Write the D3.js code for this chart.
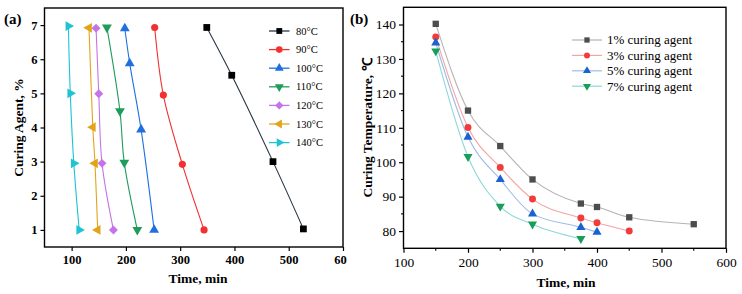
<!DOCTYPE html>
<html><head><meta charset="utf-8">
<script src="https://cdn.jsdelivr.net/npm/d3@7"></script>
<style>body{margin:0;background:#fff}svg{display:block}</style>
</head><body>
<svg id="chart" width="742" height="294"></svg>
<script>
// ---------- Panel (a) data ----------
const seriesALabels = ["80°C","90°C","100°C","110°C","120°C","130°C","140°C"];
const timeA80  = [349, 395, 471, 527];   const agentA80  = [6.93, 5.53, 3.0, 1.03];
const timeA90  = [253, 269, 304, 344];   const agentA90  = [6.93, 4.95, 2.92, 1.0];
const timeA100 = [198, 207, 228, 252];   const agentA100 = [6.9, 5.88, 3.94, 1.0];
const timeA110 = [165, 189, 197, 221];   const agentA110 = [6.93, 4.48, 2.97, 1.0];
const timeA120 = [145, 150, 156, 177];   const agentA120 = [6.91, 4.99, 2.95, 1.0];
const timeA130 = [132, 139, 143, 148];   const agentA130 = [6.92, 4.01, 2.95, 1.0];
const timeA140 = [94, 97.5, 104, 114];   const agentA140 = [6.97, 5.0, 2.95, 1.0];
const xTicksA = [100, 200, 300, 400, 500, 600];
const yTicksA = [1, 2, 3, 4, 5, 6, 7];

// ---------- Panel (b) data ----------
const seriesBLabels = ["1% curing agent","3% curing agent","5% curing agent","7% curing agent"];
const timeB1 = [150, 200, 250, 300, 375, 400, 450, 550];
const tempB1 = [140.2, 115, 104.7, 95, 88, 87, 84, 82];
const timeB3 = [150, 200, 250, 300, 375, 400, 450];
const tempB3 = [136.4, 110.1, 98.5, 89.3, 83.8, 82.4, 80];
const timeB5 = [150, 200, 250, 300, 375, 400];
const tempB5 = [134.7, 107.3, 95, 85, 81.1, 79.7];
const timeB7 = [150, 200, 250, 300, 375];
const tempB7 = [132.3, 101.6, 87.2, 82, 77.8];
const xTicksB = [100, 200, 300, 400, 500, 600];
const yTicksB = [80, 90, 100, 110, 120, 130, 140];

const svg = d3.select("#chart");
const serif = "'Liberation Serif','Times New Roman',serif";

svg.append("defs").append("clipPath").attr("id","clipA")
  .append("rect").attr("x",0).attr("y",0).attr("width",347).attr("height",294);

function zip(xs, ys){ return xs.map((x,i)=>({x, y: ys[i]})); }

function symbolPath(kind, size){
  const types = {square:d3.symbolSquare, circle:d3.symbolCircle, up:d3.symbolTriangle,
    down:d3.symbolTriangle, diamond:d3.symbolSquare, left:d3.symbolTriangle, right:d3.symbolTriangle};
  return d3.symbol().type(types[kind]).size(size)();
}
const rot = {square:0, circle:0, up:0, down:180, diamond:45, left:-90, right:90};

function drawMarker(g, kind, x, y, size, color){
  g.append("path").attr("d", symbolPath(kind, size))
    .attr("transform", `translate(${x},${y}) rotate(${rot[kind]})`)
    .attr("fill", color);
}

// ================= Panel (a) =================
{
  const x = d3.scaleLinear().domain([50, 600]).range([44.5, 343]);
  const y = d3.scaleLinear().domain([0.5, 7.5]).range([247, 8]);
  const g = svg.append("g").attr("clip-path","url(#clipA)");
  const series = [
    {t: timeA80,  a: agentA80,  c: "#000000", l: "#2a3645", m: "square"},
    {t: timeA90,  a: agentA90,  c: "#f23030", l: "#f23030", m: "circle"},
    {t: timeA100, a: agentA100, c: "#1f6fe0", l: "#1f6fe0", m: "up"},
    {t: timeA110, a: agentA110, c: "#1e9c5c", l: "#1e9c5c", m: "down"},
    {t: timeA120, a: agentA120, c: "#c474e8", l: "#c474e8", m: "diamond"},
    {t: timeA130, a: agentA130, c: "#e3a41c", l: "#e3a41c", m: "left"},
    {t: timeA140, a: agentA140, c: "#1ec4d2", l: "#1ec4d2", m: "right"}
  ];
  const line = d3.line().x(d=>x(d.x)).y(d=>y(d.y)).curve(d3.curveCatmullRom.alpha(0.5));
  series.forEach(s=>{
    const pts = zip(s.t, s.a);
    g.append("path").attr("d", line(pts)).attr("fill","none").attr("stroke", s.l).attr("stroke-width",1.1);
    pts.forEach(p=>drawMarker(g, s.m, x(p.x), y(p.y), s.m==="square"?46:(s.m==="circle"?40:(s.m==="diamond"?40:42)), s.c));
  });
  g.append("rect").attr("x",44.5).attr("y",8).attr("width",343-44.5).attr("height",247-8)
    .attr("fill","none").attr("stroke","#000").attr("stroke-width",1.4);
  const xa = g.append("g").attr("transform","translate(0,247)")
    .call(d3.axisBottom(x).tickValues(xTicksA).tickSize(4).tickPadding(4).tickFormat(d3.format("d")));
  const ya = g.append("g").attr("transform","translate(44.5,0)")
    .call(d3.axisLeft(y).tickValues(yTicksA).tickSize(4).tickPadding(3).tickFormat(d3.format("d")));
  [xa, ya].forEach(a=>{
    a.select(".domain").remove();
    a.selectAll("line").attr("stroke","#000").attr("stroke-width",1.2);
    a.selectAll("text").attr("font-family",serif).attr("font-weight","bold").attr("font-size","12.5px").attr("fill","#000");
  });
  g.append("text").attr("x",198).attr("y",283).attr("text-anchor","middle")
    .attr("font-family",serif).attr("font-weight","bold").attr("font-size","13.5px").text("Time, min");
  g.append("text").attr("transform","translate(23,127.5) rotate(-90)").attr("text-anchor","middle")
    .attr("font-family",serif).attr("font-weight","bold").attr("font-size","13.5px").text("Curing Agent, %");
  g.append("text").attr("x",4).attr("y",24).attr("font-family",serif).attr("font-weight","bold")
    .attr("font-size","15px").text("(a)");
  seriesALabels.forEach((lab,i)=>{
    const ly = 31 + i*18.6;
    const s = series[i];
    g.append("line").attr("x1",269).attr("x2",289.5).attr("y1",ly).attr("y2",ly).attr("stroke",s.l).attr("stroke-width",1.3);
    drawMarker(g, s.m, 279.3, ly, 34, s.c);
    g.append("text").attr("x",296).attr("y",ly+3.5).attr("font-family",serif).attr("font-size","10.5px").text(lab);
  });
}

// ================= Panel (b) =================
{
  const x = d3.scaleLinear().domain([100, 600]).range([403.5, 726]);
  const y = d3.scaleLinear().domain([75, 145]).range([248.3, 7.3]);
  const g = svg.append("g");
  const series = [
    {t: timeB1, v: tempB1, c: "#4d4d4d", l: "#b4b4b4", m: "square"},
    {t: timeB3, v: tempB3, c: "#f03c3c", l: "#f5a3a3", m: "circle"},
    {t: timeB5, v: tempB5, c: "#1a62d0", l: "#9dbbe8", m: "up"},
    {t: timeB7, v: tempB7, c: "#179e58", l: "#8fd6d8", m: "down"}
  ];
  const line = d3.line().x(d=>x(d.x)).y(d=>y(d.y)).curve(d3.curveMonotoneX);
  series.forEach(s=>{
    const pts = zip(s.t, s.v);
    g.append("path").attr("d", line(pts)).attr("fill","none").attr("stroke", s.l).attr("stroke-width",1.1);
  });
  series.forEach(s=>{
    zip(s.t, s.v).forEach(p=>drawMarker(g, s.m, x(p.x), y(p.y), s.m==="square"?40:(s.m==="circle"?38:36), s.c));
  });
  g.append("rect").attr("x",403.5).attr("y",7.3).attr("width",726-403.5).attr("height",248.3-7.3)
    .attr("fill","none").attr("stroke","#000").attr("stroke-width",1.4);
  const xMinor = d3.range(150, 600, 100);
  const yMinor = d3.range(85, 145, 10);
  g.selectAll(".xm").data(xMinor).join("line").attr("x1",d=>x(d)).attr("x2",d=>x(d))
    .attr("y1",248.3).attr("y2",250.8).attr("stroke","#000").attr("stroke-width",1.1);
  g.selectAll(".ym").data(yMinor).join("line").attr("y1",d=>y(d)).attr("y2",d=>y(d))
    .attr("x1",403.5).attr("x2",401).attr("stroke","#000").attr("stroke-width",1.1);
  const xa = g.append("g").attr("transform","translate(0,248.3)")
    .call(d3.axisBottom(x).tickValues(xTicksB).tickSize(4.5).tickPadding(5).tickFormat(d3.format("d")));
  const ya = g.append("g").attr("transform","translate(403.5,0)")
    .call(d3.axisLeft(y).tickValues(yTicksB).tickSize(4.5).tickPadding(3).tickFormat(d3.format("d")));
  [xa, ya].forEach(a=>{
    a.select(".domain").remove();
    a.selectAll("line").attr("stroke","#000").attr("stroke-width",1.2);
    a.selectAll("text").attr("font-family",serif).attr("font-size","13.5px").attr("fill","#000");
  });
  g.append("text").attr("x",566).attr("y",287).attr("text-anchor","middle")
    .attr("font-family",serif).attr("font-weight","bold").attr("font-size","13.5px").text("Time, min");
  g.append("text").attr("transform","translate(372,128) rotate(-90)").attr("text-anchor","middle")
    .attr("font-family",serif).attr("font-weight","bold").attr("font-size","13.5px").text("Curing Temperature, ℃");
  g.append("text").attr("x",350).attr("y",24).attr("font-family",serif).attr("font-weight","bold")
    .attr("font-size","15px").text("(b)");
  seriesBLabels.forEach((lab,i)=>{
    const ly = 40 + i*15.4;
    const s = series[i];
    g.append("line").attr("x1",572).attr("x2",602).attr("y1",ly).attr("y2",ly).attr("stroke",s.l).attr("stroke-width",1.2);
    drawMarker(g, s.m, 587, ly, 28, s.c);
    g.append("text").attr("x",607).attr("y",ly+4.3).attr("font-family",serif).attr("font-size","13px").text(lab);
  });
}
</script>
</body></html>
